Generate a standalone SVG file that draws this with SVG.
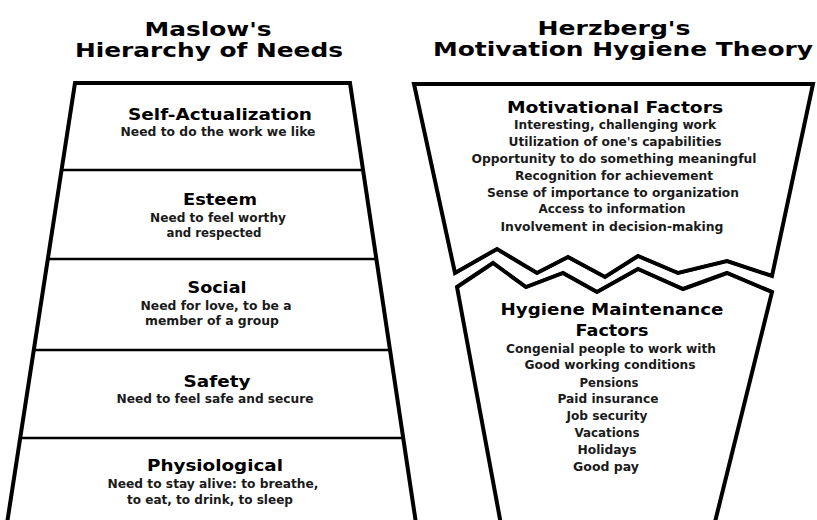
<svg xmlns="http://www.w3.org/2000/svg" width="817" height="520" viewBox="0 0 817 520">
<style>
.bg{fill:#ffffff}
.border{fill:#ffffff;stroke:#000000;stroke-width:4;stroke-linejoin:miter}
.zig{fill:none;stroke:#000000;stroke-width:3.2;stroke-linejoin:miter}
.div{stroke:#000000;stroke-width:2.5}
text{font-family:"DejaVu Sans","Liberation Sans",sans-serif;font-weight:bold;fill:#111111;text-anchor:middle}
.title{font-size:19.5px;fill:#000000}
.head{font-size:16px;fill:#000000}
.body{font-size:11.5px;fill:#1a1a1a}
</style>
<rect class="bg" x="0" y="0" width="817" height="520"/>
<g id="titles">
<text class="title" x="208" y="36" textLength="127" lengthAdjust="spacingAndGlyphs">Maslow's</text>
<text class="title" x="209" y="57" textLength="268" lengthAdjust="spacingAndGlyphs">Hierarchy of Needs</text>
<text class="title" x="614" y="35" textLength="153" lengthAdjust="spacingAndGlyphs">Herzberg's</text>
<text class="title" x="623" y="56" textLength="380" lengthAdjust="spacingAndGlyphs">Motivation Hygiene Theory</text>
</g>
<g id="maslow-pyramid">
<polygon class="border" points="75,83 350,83 417,530 6,530"/>
</g>
<g id="connectors">
<line class="div" x1="62" y1="170" x2="363" y2="170"/>
<line class="div" x1="48" y1="259" x2="376" y2="259"/>
<line class="div" x1="34" y1="350" x2="389" y2="350"/>
<line class="div" x1="20" y1="438" x2="402" y2="438"/>
</g>
<g id="self-actualization">
<text class="head" x="220" y="120" textLength="184" lengthAdjust="spacingAndGlyphs">Self-Actualization</text>
<text class="body" x="218" y="136" textLength="195" lengthAdjust="spacingAndGlyphs">Need to do the work we like</text>
</g>
<g id="esteem">
<text class="head" x="220" y="205" textLength="74" lengthAdjust="spacingAndGlyphs">Esteem</text>
<text class="body" x="218" y="222" textLength="136" lengthAdjust="spacingAndGlyphs">Need to feel worthy</text>
<text class="body" x="214" y="237" textLength="95" lengthAdjust="spacingAndGlyphs">and respected</text>
</g>
<g id="social">
<text class="head" x="217" y="293" textLength="59" lengthAdjust="spacingAndGlyphs">Social</text>
<text class="body" x="216" y="310" textLength="151" lengthAdjust="spacingAndGlyphs">Need for love, to be a</text>
<text class="body" x="212" y="325" textLength="134" lengthAdjust="spacingAndGlyphs">member of a group</text>
</g>
<g id="safety">
<text class="head" x="217" y="387" textLength="67" lengthAdjust="spacingAndGlyphs">Safety</text>
<text class="body" x="215" y="403" textLength="197" lengthAdjust="spacingAndGlyphs">Need to feel safe and secure</text>
</g>
<g id="physiological">
<text class="head" x="215" y="471" textLength="136" lengthAdjust="spacingAndGlyphs">Physiological</text>
<text class="body" x="213" y="488" textLength="211" lengthAdjust="spacingAndGlyphs">Need to stay alive: to breathe,</text>
<text class="body" x="210" y="504" textLength="166" lengthAdjust="spacingAndGlyphs">to eat, to drink, to sleep</text>
</g>
<g id="motivational-factors">
<polygon class="border" points="414,84 813,84 772,276 727,261 678,273 638,256 605,277 568,257 537,273 497,249 455,273"/>
<polyline class="zig" points="772,276 727,261 678,273 638,256 605,277 568,257 537,273 497,249 455,273"/>
<text class="head" x="615" y="113" textLength="216" lengthAdjust="spacingAndGlyphs">Motivational Factors</text>
<text class="body" x="615" y="129" textLength="202" lengthAdjust="spacingAndGlyphs">Interesting, challenging work</text>
<text class="body" x="615" y="146" textLength="213" lengthAdjust="spacingAndGlyphs">Utilization of one's capabilities</text>
<text class="body" x="614" y="163" textLength="285" lengthAdjust="spacingAndGlyphs">Opportunity to do something meaningful</text>
<text class="body" x="614" y="180" textLength="198" lengthAdjust="spacingAndGlyphs">Recognition for achievement</text>
<text class="body" x="613" y="197" textLength="252" lengthAdjust="spacingAndGlyphs">Sense of importance to organization</text>
<text class="body" x="612" y="213" textLength="147" lengthAdjust="spacingAndGlyphs">Access to information</text>
<text class="body" x="612" y="231" textLength="223" lengthAdjust="spacingAndGlyphs">Involvement in decision-making</text>
</g>
<g id="hygiene-factors">
<polygon class="border" points="457,287 493,263 526,287 563,273 597,292 638,269 683,289 727,273 772,292 713,530 502,530"/>
<polyline class="zig" points="457,287 493,263 526,287 563,273 597,292 638,269 683,289 727,273 772,292"/>
<text class="head" x="612" y="315" textLength="223" lengthAdjust="spacingAndGlyphs">Hygiene Maintenance</text>
<text class="head" x="612" y="336" textLength="73" lengthAdjust="spacingAndGlyphs">Factors</text>
<text class="body" x="611" y="353" textLength="210" lengthAdjust="spacingAndGlyphs">Congenial people to work with</text>
<text class="body" x="610" y="369" textLength="171" lengthAdjust="spacingAndGlyphs">Good working conditions</text>
<text class="body" x="609" y="387" textLength="59" lengthAdjust="spacingAndGlyphs">Pensions</text>
<text class="body" x="608" y="403" textLength="101" lengthAdjust="spacingAndGlyphs">Paid insurance</text>
<text class="body" x="607" y="420" textLength="81" lengthAdjust="spacingAndGlyphs">Job security</text>
<text class="body" x="607" y="437" textLength="65" lengthAdjust="spacingAndGlyphs">Vacations</text>
<text class="body" x="607" y="454" textLength="59" lengthAdjust="spacingAndGlyphs">Holidays</text>
<text class="body" x="606" y="471" textLength="66" lengthAdjust="spacingAndGlyphs">Good pay</text>
</g>
</svg>
